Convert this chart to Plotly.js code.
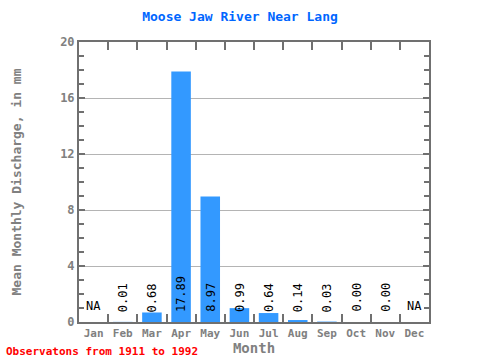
<!DOCTYPE html>
<html><head><meta charset="utf-8">
<script src="https://cdn.plot.ly/plotly-3.0.1.min.js"></script>
<style>body{margin:0;}#c{width:480px;height:360px;}</style>
</head><body><div id="c"></div>
<script>
const months = ["Jan","Feb","Mar","Apr","May","Jun","Jul","Aug","Sep","Oct","Nov","Dec"];
const discharge = [null,0.01,0.68,17.89,8.97,0.99,0.64,0.14,0.03,0.00,0.00,null];
const labels = ["NA","0.01","0.68","17.89","8.97","0.99","0.64","0.14","0.03","0.00","0.00","NA"];
const yTicks = [0,4,8,12,16,20];

const font = "'DejaVu Sans Mono', monospace";
const annotations = months.map((m,i) => {
  const na = labels[i] === "NA";
  return {
    x: m, y: 0, xref: 'x', yref: 'y',
    text: labels[i], showarrow: false,
    textangle: na ? 0 : -90,
    yanchor: 'bottom', xanchor: 'center',
    yshift: na ? 7 : 8,
    font: {family: font, size: 12, color: '#000'}
  };
});
annotations.push({
  xref: 'paper', yref: 'paper', x: -0.213, y: -0.107, xanchor: 'left', yanchor: 'middle',
  text: "<b>Observatons from 1911 to 1992</b>", showarrow: false,
  font: {family: font, size: 11, color: '#ff0000'}
});

Plotly.newPlot('c', [{
  type: 'bar', x: months, y: discharge,
  marker: {color: '#3399ff', line: {width: 0}},
  hoverinfo: 'none'
}], {
  width: 480, height: 360,
  margin: {l: 79, r: 51, t: 42, b: 38},
  paper_bgcolor: '#fff', plot_bgcolor: '#fff',
  bargap: 0.33,
  showlegend: false,
  title: {text: "<b>Moose Jaw River Near Lang</b>", x: 0.5, xanchor: 'center', y: 0.955, yanchor: 'middle',
          font: {family: font, size: 13, color: '#0066ff'}},
  xaxis: {
    type: 'category', range: [-0.5, 11.5],
    showline: true, linecolor: '#707070', linewidth: 2, mirror: 'ticks',
    ticks: 'inside', tickson: 'boundaries', ticklen: 8, tickwidth: 2, tickcolor: '#707070',
    showgrid: false, tickangle: 0,
    tickfont: {family: font, size: 11, color: '#808080', weight: 'bold'},
    title: {text: "<b>Month</b>", font: {family: font, size: 14, color: '#808080'}, standoff: 2}
  },
  yaxis: {
    range: [0, 20], tickvals: yTicks, ticktext: yTicks.map(String),
    showline: true, linecolor: '#707070', linewidth: 2, mirror: 'ticks',
    ticks: 'inside', ticklen: 6, tickwidth: 2, tickcolor: '#707070',
    showgrid: true, gridcolor: '#b4b4b4', gridwidth: 1, zeroline: false,
    minor: {dtick: 1, ticks: 'inside', ticklen: 5, tickwidth: 2, tickcolor: '#707070', showgrid: false},
    tickfont: {family: font, size: 12, color: '#808080', weight: 'bold'},
    title: {text: "<b>Mean Monthly Discharge, in mm</b>", font: {family: font, size: 13, color: '#808080'}, standoff: 36}
  },
  annotations: annotations
}, {displayModeBar: false, staticPlot: true});
</script></body></html>
